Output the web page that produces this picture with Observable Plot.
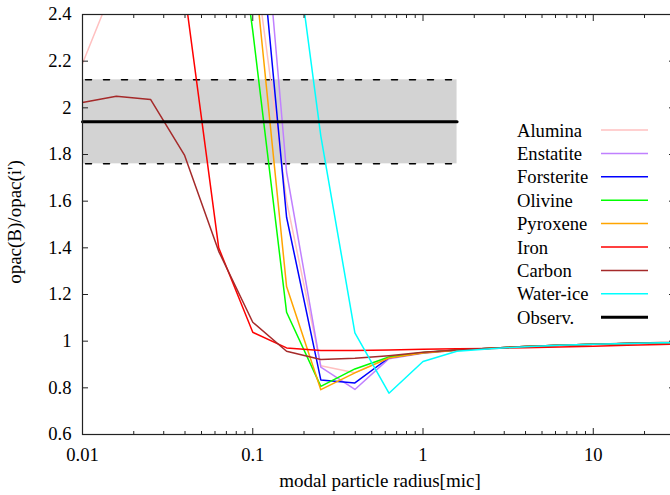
<!DOCTYPE html>
<html>
<head>
<meta charset="utf-8">
<script src="https://cdn.jsdelivr.net/npm/d3@7"></script>
<script src="https://cdn.jsdelivr.net/npm/@observablehq/plot@0.6"></script>
<style>
  html, body { margin: 0; padding: 0; background: #fff; overflow: hidden; }
  #chart { width: 670px; height: 495px; overflow: hidden; }
</style>
</head>
<body>
<div id="chart"></div>
<script>
// ---- data ----
const radius = [0.01, 0.0158, 0.0251, 0.0398, 0.0631, 0.1, 0.158, 0.251, 0.398, 0.631, 1, 1.58, 2.51, 3.98, 6.31, 10, 15.8, 25.1, 39.8];

const alumina    = [2.19, 2.55, null, null, null, 2.70, 1.60, 0.895, 0.865, 0.930, 0.950, 0.962, 0.970, 0.977, 0.982, 0.987, 0.990, 0.993, 0.995];
const enstatite  = [null, null, null, null, null, 3.40, 1.725, 0.889, 0.793, 0.925, 0.948, 0.961, 0.970, 0.977, 0.982, 0.987, 0.990, 0.993, 0.995];
const forsterite = [null, null, null, null, null, 3.08, 1.531, 0.834, 0.821, 0.929, 0.950, 0.962, 0.970, 0.977, 0.982, 0.987, 0.990, 0.993, 0.995];
const olivine    = [null, null, null, null, 3.40, 2.33, 1.124, 0.806, 0.881, 0.932, 0.951, 0.962, 0.970, 0.977, 0.982, 0.987, 0.990, 0.993, 0.995];
const pyroxene   = [null, null, null, null, null, 2.67, 1.234, 0.792, 0.864, 0.928, 0.949, 0.961, 0.970, 0.977, 0.982, 0.987, 0.990, 0.993, 0.995];
const iron       = [null, null, null, 2.50, 1.40, 1.038, 0.971, 0.960, 0.960, 0.962, 0.965, 0.967, 0.969, 0.972, 0.975, 0.978, 0.982, 0.986, 0.990];
const carbon     = [2.023, 2.05, 2.036, 1.796, 1.385, 1.081, 0.957, 0.921, 0.927, 0.938, 0.952, 0.962, 0.970, 0.977, 0.982, 0.987, 0.991, 0.994, 0.996];
const waterIce   = [null, null, null, null, null, null, 2.99, 1.88, 1.036, 0.777, 0.913, 0.957, 0.968, 0.976, 0.982, 0.987, 0.990, 0.993, 0.995];

const seriesNames  = ["Alumina", "Enstatite", "Forsterite", "Olivine", "Pyroxene", "Iron", "Carbon", "Water-ice"];
const seriesValues = [alumina, enstatite, forsterite, olivine, pyroxene, iron, carbon, waterIce];
const seriesColors = ["#ffc0c0", "#c080ff", "#0000ff", "#00ff00", "#ffa500", "#ff0000", "#a52a2a", "#00ffff"];

const obsName = "Observ.";
const obsMean = 1.94;
const obsLow = 1.76;
const obsHigh = 2.12;
const obsRadius = [0.01, 1.585];

const xMajorTicks = [0.01, 0.1, 1, 10];
const xMinorMult = [2, 3, 4, 5, 6, 7, 8, 9];
const xDecades = [0.01, 0.1, 1, 10];
const yTicks = [0.6, 0.8, 1.0, 1.2, 1.4, 1.6, 1.8, 2.0, 2.2, 2.4];

const xLabel = "modal particle radius[mic]";
const yLabel = "opac(B)/opac(i')";

// ---- build tables ----
const rows = [];
seriesNames.forEach((name, i) => {
  radius.forEach((r, j) => {
    const v = seriesValues[i][j];
    if (v != null) rows.push({name, r, v, order: i});
  });
});
const xMinorTicks = xDecades.flatMap(d => xMinorMult.map(m => d * m)).filter(t => t <= 30);
const obsRows = [{x1: obsRadius[0], x2: obsRadius[1], y1: obsLow, y2: obsHigh}];
const obsLine = obsRadius.map(r => ({r, v: obsMean}));
const obsLowLine = obsRadius.map(r => ({r, v: obsLow}));
const obsHighLine = obsRadius.map(r => ({r, v: obsHigh}));

const font = "'Liberation Serif', 'Times New Roman', serif";
const fs = "18.6px";
const blank = () => "";

const plot = Plot.plot({
  width: 670,
  height: 495,
  marginLeft: 82,
  marginRight: -4,
  marginTop: 14,
  marginBottom: 61,
  style: {fontFamily: font, fontSize: fs, background: "#fff", color: "#000", overflow: "hidden"},
  x: {type: "log", domain: [0.01, 30]},
  y: {domain: [0.6, 2.4]},
  color: {domain: seriesNames, range: seriesColors},
  marks: [
    Plot.rect(obsRows, {x1: "x1", x2: "x2", y1: "y1", y2: "y2", fill: "#d3d3d3"}),
    Plot.line(obsLowLine, {x: "r", y: "v", stroke: "#000", strokeWidth: 1.5, strokeDasharray: "6,12", strokeDashoffset: -3}),
    Plot.line(obsHighLine, {x: "r", y: "v", stroke: "#000", strokeWidth: 1.5, strokeDasharray: "6,12", strokeDashoffset: -3}),
    Plot.line(rows, {x: "r", y: "v", z: "name", stroke: "name", strokeWidth: 1.5, clip: true}),
    Plot.line(obsLine, {x: "r", y: "v", stroke: "#000", strokeWidth: 3}),
    // ticks (inward, mirrored)
    Plot.axisX({anchor: "bottom", ticks: xMajorTicks, tickSize: 6, dy: -6, tickFormat: blank, label: null, stroke: "#222"}),
    Plot.axisX({anchor: "bottom", ticks: xMinorTicks, tickSize: 3, dy: -3, tickFormat: blank, label: null, stroke: "#222"}),
    Plot.axisX({anchor: "top", ticks: xMajorTicks, tickSize: 6, dy: 6, tickFormat: blank, label: null, stroke: "#222"}),
    Plot.axisX({anchor: "top", ticks: xMinorTicks, tickSize: 3, dy: 3, tickFormat: blank, label: null, stroke: "#222"}),
    Plot.axisY({anchor: "left", ticks: yTicks, tickSize: 6, dx: 6, tickFormat: blank, label: null, stroke: "#222"}),
    Plot.axisY({anchor: "right", ticks: yTicks, tickSize: 6, dx: -6, tickFormat: blank, label: null, stroke: "#222"}),
    Plot.axisX({anchor: "bottom", ticks: xMajorTicks, tickSize: 0, tickPadding: 13, tickFormat: d => String(d), label: null, fill: "#000"}),
    Plot.axisY({anchor: "left", ticks: yTicks, tickSize: 0, tickPadding: 11, tickFormat: d => String(+d.toFixed(1)), label: null, fill: "#000"}),
    Plot.frame({stroke: "#222", strokeWidth: 1.2})
  ]
});

document.getElementById("chart").appendChild(plot);

// ---- labels & legend ----
const svg = d3.select(plot);
svg.append("text")
  .attr("x", 380).attr("y", 487)
  .attr("text-anchor", "middle")
  .style("font-family", font).style("font-size", "19px")
  .text(xLabel);
svg.append("text")
  .attr("transform", "translate(21,222) rotate(-90)")
  .attr("text-anchor", "middle")
  .style("font-family", font).style("font-size", "19px")
  .text(yLabel);

const legendEntries = seriesNames.map((n, i) => ({name: n, color: seriesColors[i], width: 1.5}))
  .concat([{name: obsName, color: "#000", width: 3}]);
const lg = svg.append("g");
legendEntries.forEach((e, i) => {
  const cy = 130 + i * 23.4;
  lg.append("text")
    .attr("x", 517).attr("y", cy + 6.5)
    .attr("text-anchor", "start")
    .style("font-family", font).style("font-size", fs)
    .text(e.name);
  lg.append("line")
    .attr("x1", 601).attr("x2", 648).attr("y1", cy).attr("y2", cy)
    .attr("stroke", e.color).attr("stroke-width", e.width);
});
</script>
</body>
</html>
